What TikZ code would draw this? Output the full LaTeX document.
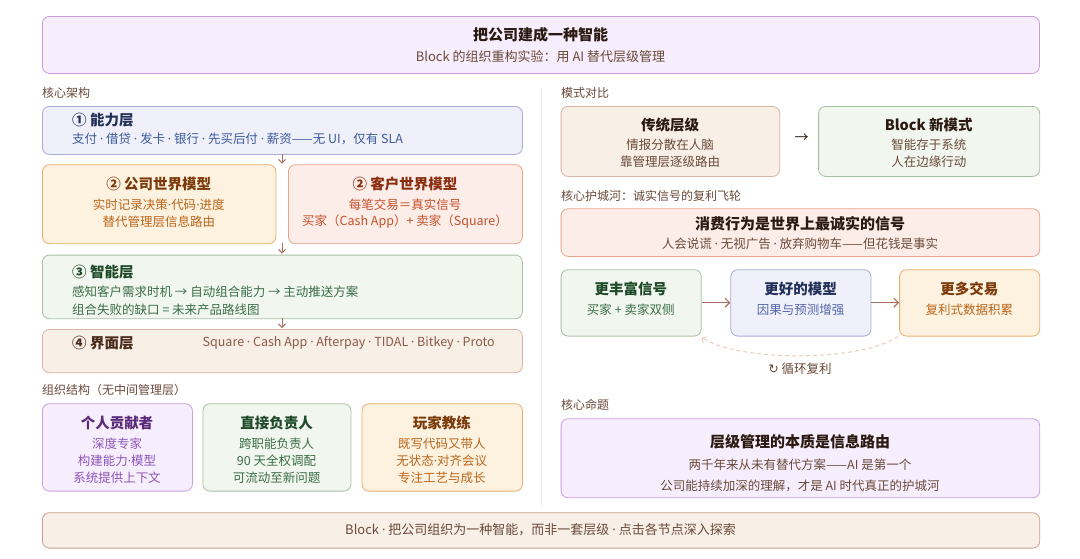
\documentclass[tikz,border=0pt]{standalone}
\usepackage{fontspec}
\setmainfont{Noto Sans CJK SC}
\newfontfamily\symfnt{DejaVu Sans}
\newfontfamily\latf{Noto Sans}
\newcommand\dt{{\latf ·}}
\usetikzlibrary{arrows.meta}
\definecolor{bnFill}{HTML}{F6EEFC}\definecolor{bnDraw}{HTML}{C99BDB}
\definecolor{dkText}{HTML}{2B1A12}\definecolor{brText}{HTML}{6A4A3A}
\definecolor{blFill}{HTML}{EFF0FA}\definecolor{blDraw}{HTML}{A9AAD6}\definecolor{blTitle}{HTML}{22305A}\definecolor{blText}{HTML}{3B5A9A}\definecolor{blText2}{HTML}{5468A8}
\definecolor{orFill}{HTML}{FDF2DF}\definecolor{orDraw}{HTML}{E9AE6E}\definecolor{orTitle}{HTML}{7A3A0A}\definecolor{orText}{HTML}{BA661C}
\definecolor{rdFill}{HTML}{FDEDE8}\definecolor{rdDraw}{HTML}{E9A48A}\definecolor{rdTitle}{HTML}{8A2E10}\definecolor{rdText}{HTML}{C4502A}
\definecolor{gnFill}{HTML}{F1F6EE}\definecolor{gnDraw}{HTML}{A9C1A3}\definecolor{gnTitle}{HTML}{1F4A2A}\definecolor{gnText}{HTML}{3A6E48}
\definecolor{bgFill}{HTML}{F8EFE7}\definecolor{bgDraw}{HTML}{D9B3A3}\definecolor{bgDraw2}{HTML}{C9A08F}\definecolor{bgText}{HTML}{8A5A4A}\definecolor{bgTitle}{HTML}{4A2A1A}
\definecolor{puFill}{HTML}{F6EEFD}\definecolor{puDraw}{HTML}{C9A0E2}\definecolor{puTitle}{HTML}{5A2A7A}\definecolor{puText}{HTML}{8E55B8}
\definecolor{arrCol}{HTML}{A87060}\definecolor{dashCol}{HTML}{E8CBC2}\definecolor{divCol}{HTML}{EEEEEE}
\newcommand\fsbody{\fontsize{12.5pt}{15pt}\selectfont}
\newcommand\fslab{\fontsize{12pt}{14pt}\selectfont}
\newcommand\fstitle{\fontsize{14.5pt}{17pt}\selectfont\bfseries}
\newcommand\fsbig{\fontsize{15pt}{18pt}\selectfont\bfseries}
\tikzset{
  panel/.style={rounded corners=7pt, line width=0.8pt, inner sep=0pt, anchor=north west},
  txt/.style={inner sep=0pt, anchor=center},
  wtxt/.style={inner sep=0pt, anchor=west},
  seclab/.style={inner sep=0pt, anchor=west, text=brText, font=\fslab},
  downarr/.style={draw=arrCol, line width=0.9pt, -{Straight Barb[length=3.5pt,width=7pt]}},
  flowarr/.style={draw=arrCol, line width=1.2pt, -{Straight Barb[length=4.5pt,width=9pt]}},
}
\begin{document}
\begin{tikzpicture}[x=1pt,y=-1pt]
\useasboundingbox[fill=white] (0,0) rectangle (1080,558);
% banner
\node[panel, fill=bnFill, draw=bnDraw, minimum width=997pt, minimum height=57pt] (banner) at (42,16) {};
\node[txt, font=\fsbig, text=dkText] (bt) at (540.5,35) {把公司建成一种智能};
\node[txt, font=\fontsize{13pt}{15pt}\selectfont, text=brText] (bs) at (540.5,56.5) {Block 的组织重构实验：用 AI 替代层级管理};
% divider
\coordinate (dv1) at (541.5,88); \coordinate (dv2) at (541.5,508);
\draw[divCol, line width=0.8pt] (dv1) -- (dv2);
% ---------- left column
\node[seclab] (l1) at (42,93) {核心架构};
\node[panel, fill=blFill, draw=blDraw, minimum width=480pt, minimum height=48pt] (cap) at (42,106) {};
\node[wtxt, font=\fstitle, text=blTitle] (capt) at (72,120.5) {① 能力层};
\node[wtxt, font=\fsbody, text=blText] (caps) at (72,138.5) {支付 \dt{} 借贷 \dt{} 发卡 \dt{} 银行 \dt{} 先买后付 \dt{} 薪资——无 UI，仅有 SLA};
\node[panel, fill=orFill, draw=orDraw, minimum width=233.5pt, minimum height=79pt] (cwm) at (42,164.3) {};
\node[txt, font=\fstitle, text=orTitle] (cwmt) at (158.75,184.3) {② 公司世界模型};
\node[txt, font=\fsbody, text=orText] (cwm1) at (158.75,204.3) {实时记录决策\dt 代码\dt 进度};
\node[txt, font=\fsbody, text=orText] (cwm2) at (158.75,221.7) {替代管理层信息路由};
\node[panel, fill=rdFill, draw=rdDraw, minimum width=234pt, minimum height=79pt] (kwm) at (288,164.3) {};
\node[txt, font=\fstitle, text=rdTitle] (kwmt) at (405,184.3) {② 客户世界模型};
\node[txt, font=\fsbody, text=rdText] (kwm1) at (405,204.3) {每笔交易＝真实信号};
\node[txt, font=\fsbody, text=rdText] (kwm2) at (405,221.7) {买家（Cash App）+ 卖家（Square）};
\node[panel, fill=gnFill, draw=gnDraw, minimum width=480pt, minimum height=63.6pt] (intel) at (42,254.7) {};
\node[wtxt, font=\fstitle, text=gnTitle] (intt) at (72,271.7) {③ 智能层};
\node[wtxt, font=\fsbody, text=gnText] (int1) at (72,291.7) {感知客户需求时机 → 自动组合能力 → 主动推送方案};
\node[wtxt, font=\fsbody, text=gnText] (int2) at (72,309.3) {组合失败的缺口 = 未来产品路线图};
\node[panel, fill=bgFill, draw=bgDraw, minimum width=480pt, minimum height=43.3pt] (ui) at (42,329) {};
\node[wtxt, font=\fstitle, text=bgTitle] (uit) at (72,343.3) {④ 界面层};
\node[wtxt, font=\fsbody, text=bgText] (uis) at (202.5,343.3) {Square \dt{} Cash App \dt{} Afterpay \dt{} TIDAL \dt{} Bitkey \dt{} Proto};
\coordinate (a1s) at (282,154); \coordinate (a1e) at (282,163.5);
\coordinate (a2s) at (282,243.3); \coordinate (a2e) at (282,253.5);
\coordinate (a3s) at (282,318.3); \coordinate (a3e) at (282,328);
\draw[downarr] (a1s) -- (a1e);
\draw[downarr] (a2s) -- (a2e);
\draw[downarr] (a3s) -- (a3e);
% org
\node[seclab] (l2) at (42,390) {组织结构（无中间管理层）};
\node[panel, fill=puFill, draw=puDraw, minimum width=150pt, minimum height=87.4pt] (ic) at (42,403.3) {};
\node[txt, font=\fstitle, text=puTitle] (ict) at (117,422.7) {个人贡献者};
\node[txt, font=\fsbody, text=puText] (ic1) at (117,443.3) {深度专家};
\node[txt, font=\fsbody, text=puText] (ic2) at (117,461) {构建能力\dt 模型};
\node[txt, font=\fsbody, text=puText] (ic3) at (117,477.7) {系统提供上下文};
\node[panel, fill=gnFill, draw=gnDraw, minimum width=148pt, minimum height=87.4pt] (dri) at (202.5,403.3) {};
\node[txt, font=\fstitle, text=gnTitle] (drit) at (276.5,422.7) {直接负责人};
\node[txt, font=\fsbody, text=gnText] (dri1) at (276.5,443.3) {跨职能负责人};
\node[txt, font=\fsbody, text=gnText] (dri2) at (276.5,461) {90 天全权调配};
\node[txt, font=\fsbody, text=gnText] (dri3) at (276.5,477.7) {可流动至新问题};
\node[panel, fill=orFill, draw=orDraw, minimum width=160.4pt, minimum height=87.4pt] (pc) at (361.6,403.3) {};
\node[txt, font=\fstitle, text=orTitle] (pct) at (441.8,422.7) {玩家教练};
\node[txt, font=\fsbody, text=orText] (pc1) at (441.8,443.3) {既写代码又带人};
\node[txt, font=\fsbody, text=orText] (pc2) at (441.8,461) {无状态\dt 对齐会议};
\node[txt, font=\fsbody, text=orText] (pc3) at (441.8,477.7) {专注工艺与成长};
% ---------- right column
\node[seclab] (r1) at (561,93.3) {模式对比};
\node[panel, fill=bgFill, draw=bgDraw, minimum width=218.6pt, minimum height=70pt] (trad) at (560.7,106) {};
\node[txt, font=\fstitle, text=dkText] (tradt) at (670,125) {传统层级};
\node[txt, font=\fsbody, text=brText] (trad1) at (670,145) {情报分散在人脑};
\node[txt, font=\fsbody, text=brText] (trad2) at (670,162) {靠管理层逐级路由};
\node[txt, font=\fontsize{14pt}{16pt}\selectfont, text=dkText] (cmp) at (801.7,138) {→};
\node[panel, fill=gnFill, draw=gnDraw, minimum width=221.1pt, minimum height=70pt] (blk) at (818.2,106) {};
\node[txt, font=\fstitle, text=dkText] (blkt) at (928.75,125) {Block 新模式};
\node[txt, font=\fsbody, text=brText] (blk1) at (928.75,145) {智能存于系统};
\node[txt, font=\fsbody, text=brText] (blk2) at (928.75,162) {人在边缘行动};
\node[seclab] (r2) at (561,196) {核心护城河：诚实信号的复利飞轮};
\node[panel, fill=rdFill, draw=rdDraw, minimum width=478.6pt, minimum height=47.7pt] (hon) at (560.7,208.3) {};
\node[txt, font=\fsbig, text=dkText] (hont) at (800,223.3) {消费行为是世界上最诚实的信号};
\node[txt, font=\fsbody, text=brText] (hons) at (800,243.3) {人会说谎 \dt{} 无视广告 \dt{} 放弃购物车——但花钱是事实};
\node[panel, fill=gnFill, draw=gnDraw, minimum width=140.1pt, minimum height=66.4pt] (fwA) at (560.7,269.3) {};
\node[txt, font=\fstitle, text=gnTitle] (fwAt) at (630.75,289.3) {更丰富信号};
\node[txt, font=\fsbody, text=gnText] (fwAs) at (630.75,310) {买家 + 卖家双侧};
\node[panel, fill=blFill, draw=blDraw, minimum width=140.2pt, minimum height=66.4pt] (fwB) at (730.4,269.3) {};
\node[txt, font=\fstitle, text=blTitle] (fwBt) at (800.5,289.3) {更好的模型};
\node[txt, font=\fsbody, text=blText2] (fwBs) at (800.5,310) {因果与预测增强};
\node[panel, fill=orFill, draw=orDraw, minimum width=140.1pt, minimum height=66.4pt] (fwC) at (899.2,269.3) {};
\node[txt, font=\fstitle, text=orTitle] (fwCt) at (969.25,289.3) {更多交易};
\node[txt, font=\fsbody, text=orText] (fwCs) at (969.25,310) {复利式数据积累};
\draw[flowarr] (fwA.east |- 0,302.7) -- (fwB.west |- 0,302.7);
\draw[flowarr] (fwB.east |- 0,302.7) -- (fwC.west |- 0,302.7);
\draw[dashCol, line width=1pt, dash pattern=on 4pt off 3pt, -{Straight Barb[length=3.5pt,width=7pt]}]
  ([shift={(-1,0)}]fwC.south west) .. controls (860,362) and (740,362) .. ([shift={(0,1)}]fwA.south east);
\node[txt, font=\fsbody, text=brText] (loop) at (800,368.3) {{\symfnt\fontsize{12.5pt}{14pt}\selectfont ↻} 循环复利};
\node[seclab] (r3) at (561,405) {核心命题};
\node[panel, fill=puFill, draw=puDraw, minimum width=478.6pt, minimum height=79pt] (thesis) at (560.7,418.3) {};
\node[txt, font=\fsbig, text=dkText] (thet) at (800,442) {层级管理的本质是信息路由};
\node[txt, font=\fsbody, text=brText] (the1) at (800,465) {两千年来从未有替代方案——AI 是第一个};
\node[txt, font=\fsbody, text=brText] (the2) at (800,486) {公司能持续加深的理解，才是 AI 时代真正的护城河};
% bottom bar
\node[panel, fill=bgFill, draw=bgDraw2, minimum width=997.3pt, minimum height=35.4pt] (foot) at (42,512.3) {};
\node[txt, font=\fontsize{13pt}{15pt}\selectfont, text=brText] (foott) at (540.5,530) {Block \dt{} 把公司组织为一种智能，而非一套层级 \dt{} 点击各节点深入探索};
\end{tikzpicture}
\end{document}
